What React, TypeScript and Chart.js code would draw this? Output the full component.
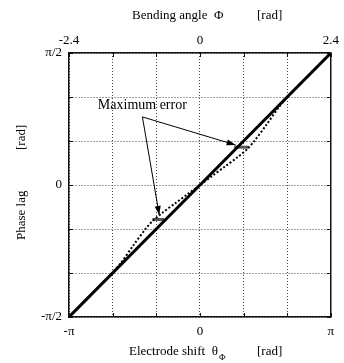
import React, { useEffect, useRef } from 'react';
import { Chart, registerables } from 'chart.js';
Chart.register(...registerables);

const PI = Math.PI;

// Solid reference line (phase lag = shift / 2)
const solidX = [-PI, 0, PI];
const solidY = [-PI / 2, 0, PI / 2];

// Dotted measured curve
const dottedX = [-PI, -2.6, -2.2, -1.9, -1.6, -1.3, -1.14, -0.9, -0.6, -0.3, 0, 0.3, 0.6, 0.9, 1.14, 1.3, 1.6, 1.9, 2.2, 2.6, PI];
const dottedY = [-PI / 2, -1.3, -1.1, -0.93, -0.72, -0.52, -0.43, -0.33, -0.22, -0.11, 0, 0.11, 0.22, 0.33, 0.43, 0.52, 0.72, 0.93, 1.1, 1.3, PI / 2];

// Maximum-error markers
const errLowX = [-1.14, -0.86];
const errLowY = [-0.41, -0.41];
const errHighX = [0.82, 1.17];
const errHighY = [0.45, 0.45];

// Ticks
const xTicks = [-PI, -2 * PI / 3, -PI / 3, 0, PI / 3, 2 * PI / 3, PI];
const xTickLabels = ['-π', '', '', '0', '', '', 'π'];
const topTicks = [-2.4, -1.6, -0.8, 0, 0.8, 1.6, 2.4];
const topTickLabels = ['-2.4', '', '', '0', '', '', '2.4'];
const yTicks = [-PI / 2, -PI / 3, -PI / 6, 0, PI / 6, PI / 3, PI / 2];
const yTickLabels = ['-π/2', '', '', '0', '', '', 'π/2'];

// Annotation (data coordinates)
const annotText = 'Maximum error';
const annotTextPos = [-2.45, 0.95];
const arrowOrigin = [-1.38, 0.81];
const arrowTips = [[0.857, 0.476], [-0.976, -0.357]];

const FONT = 'Liberation Serif, "Times New Roman", serif';

const toPts = (xs: number[], ys: number[]) => xs.map((x, i) => ({ x, y: ys[i] }));

const decorPlugin = {
  id: 'decor',
  afterDatasetsDraw(chart: any) {
    const { ctx, chartArea, scales } = chart;
    const xs = scales.x, ys = scales.y;
    ctx.save();
    // inward ticks
    ctx.strokeStyle = '#111';
    ctx.lineWidth = 1;
    ctx.beginPath();
    xTicks.forEach((v) => {
      const px = Math.round(xs.getPixelForValue(v)) + 0.5;
      ctx.moveTo(px, chartArea.bottom); ctx.lineTo(px, chartArea.bottom - 4);
      ctx.moveTo(px, chartArea.top); ctx.lineTo(px, chartArea.top + 4);
    });
    yTicks.forEach((v) => {
      const py = Math.round(ys.getPixelForValue(v)) + 0.5;
      ctx.moveTo(chartArea.left, py); ctx.lineTo(chartArea.left + 4, py);
      ctx.moveTo(chartArea.right, py); ctx.lineTo(chartArea.right - 4, py);
    });
    ctx.stroke();

    // annotation
    ctx.fillStyle = '#000';
    ctx.font = `14px ${FONT}`;
    ctx.textBaseline = 'middle';
    ctx.textAlign = 'left';
    ctx.fillText(annotText, xs.getPixelForValue(annotTextPos[0]), ys.getPixelForValue(annotTextPos[1]));
    const ox = xs.getPixelForValue(arrowOrigin[0]);
    const oy = ys.getPixelForValue(arrowOrigin[1]);
    arrowTips.forEach(([tx, ty]) => {
      const px = xs.getPixelForValue(tx), py = ys.getPixelForValue(ty);
      ctx.strokeStyle = '#000';
      ctx.lineWidth = 1;
      ctx.beginPath();
      ctx.moveTo(ox, oy);
      ctx.lineTo(px, py);
      ctx.stroke();
      const ang = Math.atan2(py - oy, px - ox);
      const L = 9, W = 3;
      ctx.beginPath();
      ctx.moveTo(px, py);
      ctx.lineTo(px - L * Math.cos(ang) + W * Math.sin(ang), py - L * Math.sin(ang) - W * Math.cos(ang));
      ctx.lineTo(px - L * Math.cos(ang) - W * Math.sin(ang), py - L * Math.sin(ang) + W * Math.cos(ang));
      ctx.closePath();
      ctx.fill();
    });

    // titles
    ctx.font = `13px ${FONT}`;
    ctx.textBaseline = 'middle';
    ctx.textAlign = 'left';
    const L0 = chartArea.left;
    // top
    ctx.fillText('Bending angle  Φ', L0 + 63, 16);
    ctx.fillText('[rad]', L0 + 188, 16);
    // bottom
    const by = 352;
    const t1 = 'Electrode shift  θ';
    ctx.fillText(t1, L0 + 60, by);
    const w1 = ctx.measureText(t1).width;
    ctx.font = `9px ${FONT}`;
    ctx.fillText('Φ', L0 + 60 + w1 + 1, by + 6);
    ctx.font = `13px ${FONT}`;
    ctx.fillText('[rad]', L0 + 188, by);
    // left
    ctx.save();
    ctx.translate(22, 0);
    ctx.rotate(-Math.PI / 2);
    ctx.fillText('Phase lag', -240, 0);
    ctx.fillText('[rad]', -150, 0);
    ctx.restore();
    ctx.restore();
  },
};

export default function App() {
  const ref = useRef<HTMLCanvasElement>(null);
  useEffect(() => {
    if (!ref.current) return;
    const setTicks = (vals: number[]) => (scale: any) => {
      scale.ticks = vals.map((v) => ({ value: v }));
    };
    const chart = new Chart(ref.current, {
      type: 'scatter',
      data: {
        datasets: [
          {
            data: toPts(dottedX, dottedY),
            showLine: true,
            borderColor: '#000',
            borderWidth: 2,
            borderDash: [2, 2],
            pointRadius: 0,
            tension: 0.3,
            xAxisID: 'x',
            yAxisID: 'y',
          },
          {
            data: toPts(solidX, solidY),
            showLine: true,
            borderColor: '#000',
            borderWidth: 3,
            pointRadius: 0,
            xAxisID: 'x',
            yAxisID: 'y',
          },
          {
            data: toPts(errLowX, errLowY),
            showLine: true,
            borderColor: '#555',
            borderWidth: 3,
            pointRadius: 0,
            xAxisID: 'x',
            yAxisID: 'y',
          },
          {
            data: toPts(errHighX, errHighY),
            showLine: true,
            borderColor: '#555',
            borderWidth: 3,
            pointRadius: 0,
            xAxisID: 'x',
            yAxisID: 'y',
          },
        ],
      },
      options: {
        animation: false,
        responsive: false,
        devicePixelRatio: 1,
        layout: { padding: { left: 0, right: 11, top: 0, bottom: 0 } },
        plugins: { legend: { display: false }, tooltip: { enabled: false } },
        scales: {
          x: {
            type: 'linear',
            position: 'bottom',
            min: -PI,
            max: PI,
            afterBuildTicks: setTicks(xTicks),
            afterFit: (s: any) => { s.height = 46; },
            ticks: {
              autoSkip: false,
              maxRotation: 0,
              padding: 7,
              color: '#000',
              font: { family: FONT, size: 13 },
              callback: (_v: any, i: number) => xTickLabels[i],
            },
            grid: { color: '#444', lineWidth: 1, drawTicks: false },
            border: { display: true, color: '#111', width: 1.5, dash: [1, 2] },
          },
          x2: {
            type: 'linear',
            position: 'top',
            min: -2.4,
            max: 2.4,
            afterBuildTicks: setTicks(topTicks),
            afterFit: (s: any) => { s.height = 53; },
            ticks: {
              autoSkip: false,
              maxRotation: 0,
              padding: 5,
              color: '#000',
              font: { family: FONT, size: 13 },
              callback: (_v: any, i: number) => topTickLabels[i],
            },
            grid: { display: false, drawTicks: false },
            border: { display: true, color: '#111', width: 1.5 },
          },
          y: {
            type: 'linear',
            position: 'left',
            min: -PI / 2,
            max: PI / 2,
            afterBuildTicks: setTicks(yTicks),
            afterFit: (s: any) => { s.width = 69; },
            ticks: {
              autoSkip: false,
              padding: 7,
              color: '#000',
              font: { family: FONT, size: 13 },
              callback: (_v: any, i: number) => yTickLabels[i],
            },
            grid: { color: '#444', lineWidth: 1, drawTicks: false },
            border: { display: true, color: '#111', width: 1.5, dash: [1, 2] },
          },
          y2: {
            type: 'linear',
            position: 'right',
            min: -PI / 2,
            max: PI / 2,
            afterFit: (s: any) => { s.width = 0; },
            ticks: { display: false },
            grid: { display: false, drawTicks: false },
            border: { display: true, color: '#111', width: 1.5 },
          },
        },
      },
      plugins: [decorPlugin],
    } as any);
    return () => chart.destroy();
  }, []);
  return (
    <div style={{ position: 'absolute', left: 0, top: 0, width: 344, height: 363, background: '#fff' }}>
      <canvas ref={ref} width={344} height={363} />
    </div>
  );
}
